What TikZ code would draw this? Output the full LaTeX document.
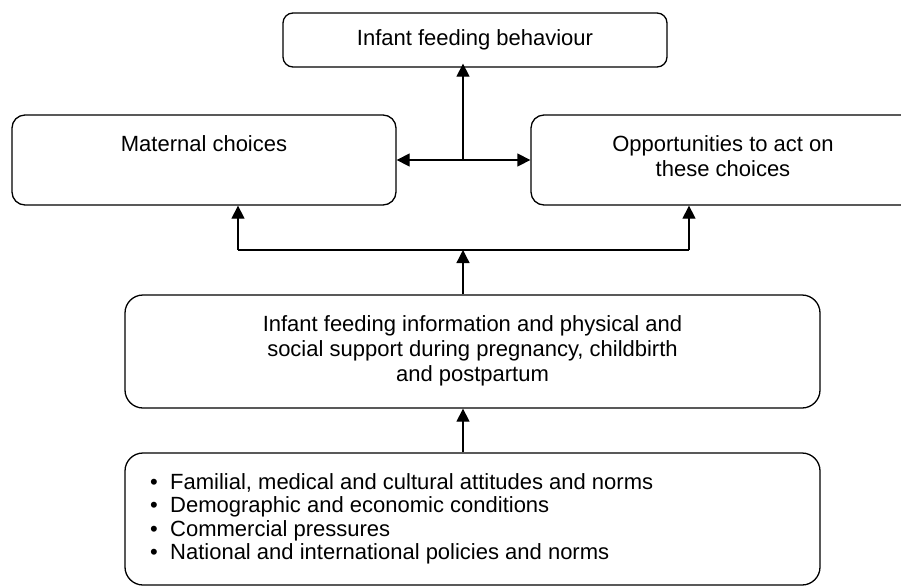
\documentclass[tikz,border=0pt]{standalone}
\usepackage{fontspec}
\setmainfont{Liberation Sans}
\usetikzlibrary{arrows.meta}
\begin{document}
\begin{tikzpicture}[x=1pt,y=-1pt,
  box/.style={draw,line width=1.3pt,minimum width=#1,inner sep=0pt},
  lbl/.style={inner sep=0pt,font=\fontsize{22}{25}\selectfont,align=center},
  conn/.style={line width=1.3pt},
  arr/.style={conn,-{Triangle[length=13pt,width=13pt]}}]
\useasboundingbox (0,0) rectangle (901,587);
\clip (0,0) rectangle (901,587);

% boxes
\node[box=384pt,minimum height=54pt,rounded corners=10pt] (top) at (475,40) {};
\node[box=384pt,minimum height=90pt,rounded corners=13pt] (mat) at (204,160) {};
\node[box=384pt,minimum height=90pt,rounded corners=13pt] (opp) at (723,160) {};
\node[box=695pt,minimum height=113pt,rounded corners=18pt] (info) at (472.5,351.5) {};
\node[box=695pt,minimum height=132pt,rounded corners=18pt] (fac) at (472.5,519) {};

% texts (base anchor of a multi-line node sits on its last line)
\node[lbl,anchor=base] (topt) at (475,45) {Infant feeding behaviour};
\node[lbl,anchor=base] (matt) at (204,151) {Maternal choices};
\node[lbl,anchor=base] (oppt) at (723,176) {Opportunities to act on\\these choices};
\node[lbl,anchor=base] (infot) at (472.5,381) {Infant feeding information and physical and\\social support during pregnancy, childbirth\\and postpartum};
\node[lbl,anchor=base west,align=left,font=\fontsize{22}{23.5}\selectfont] (fact) at (150,559.5)
  {\makebox[20pt][l]{•}Familial, medical and cultural attitudes and norms\\
   \makebox[20pt][l]{•}Demographic and economic conditions\\
   \makebox[20pt][l]{•}Commercial pressures\\
   \makebox[20pt][l]{•}National and international policies and norms};

% junctions
\coordinate (j1) at (463,160);
\coordinate (j2) at (463,250);
\coordinate (jl) at (238,250);
\coordinate (jr) at (689,250);

% connectors
\draw[arr] (j1) -- ([yshift=4pt]j1 |- top.south);
\draw[arr] (j1) -- (mat.east);
\draw[arr] (j1) -- (opp.west);
\draw[conn] (jl) -- (jr);
\draw[arr] (j2 |- info.north) -- (j2);
\draw[arr] (jl) -- (jl |- mat.south);
\draw[arr] (jr) -- (jr |- opp.south);
\draw[arr] (j2 |- fac.north) -- (j2 |- info.south);
\end{tikzpicture}
\end{document}
